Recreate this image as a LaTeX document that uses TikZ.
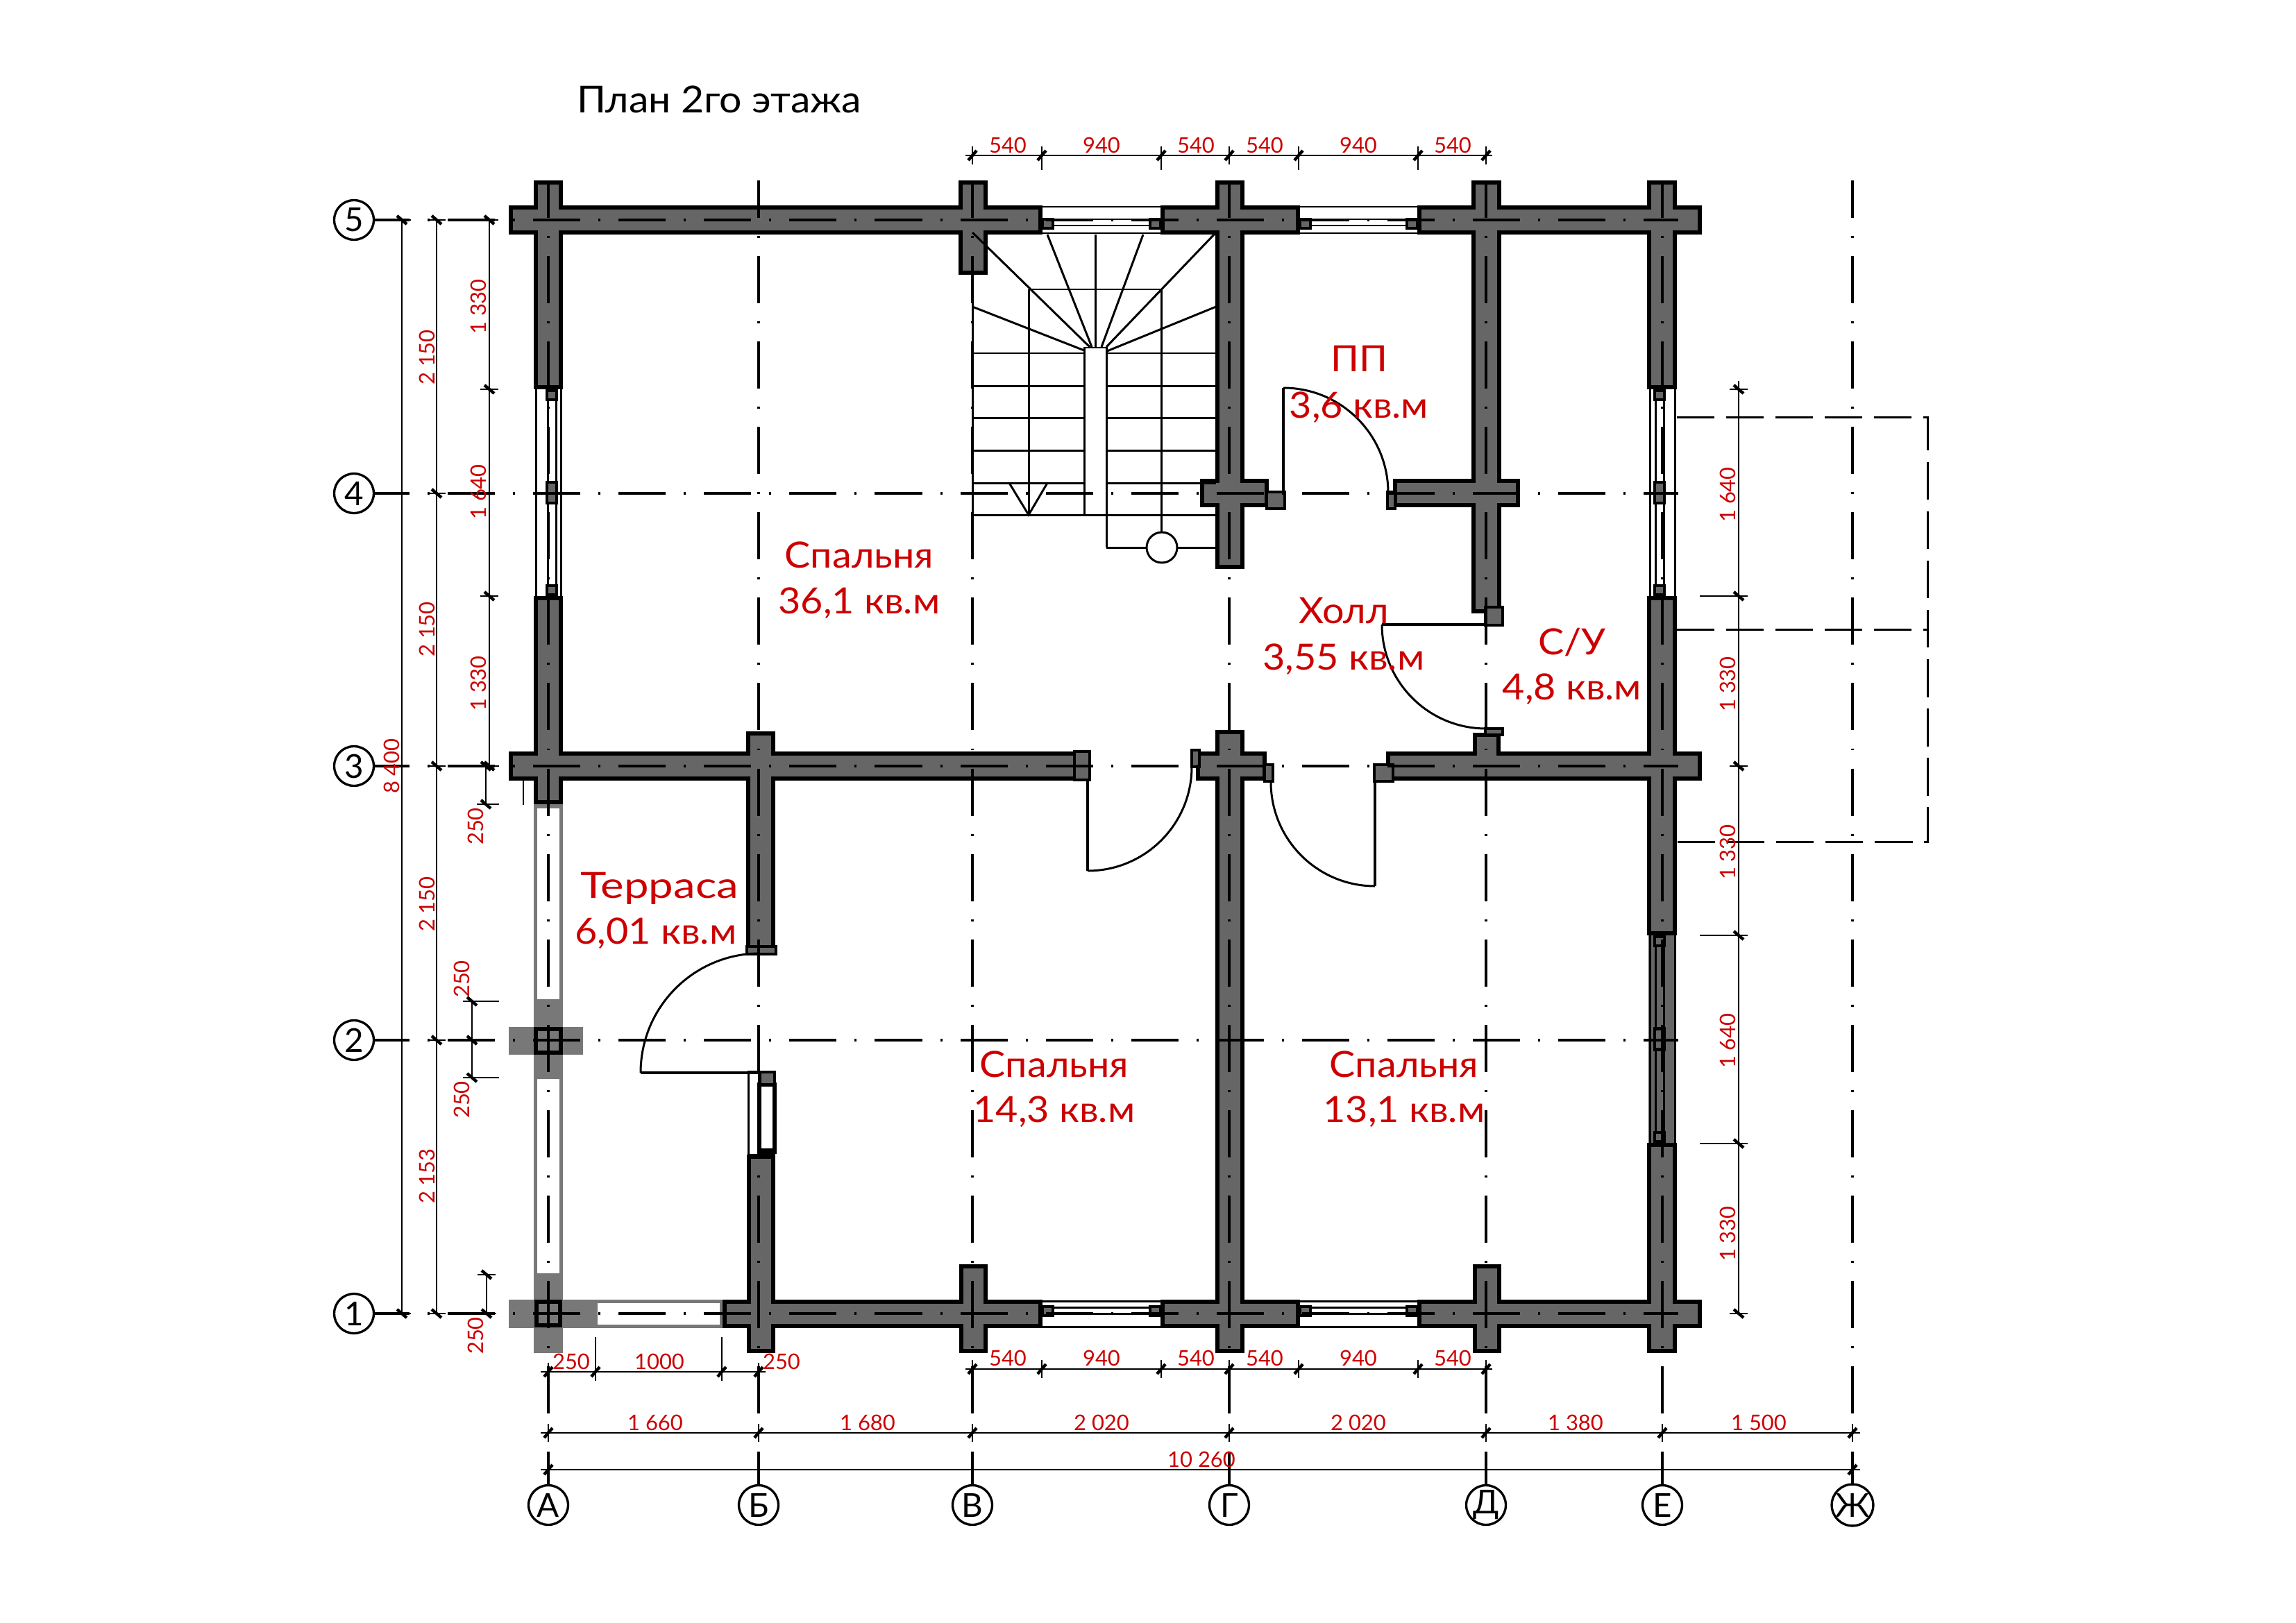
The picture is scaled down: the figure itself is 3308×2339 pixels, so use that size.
\documentclass[tikz,border=0pt]{standalone}
\usepackage{fontspec}
\setmainfont{Lato}
\newfontfamily\planfont[FakeStretch=1.07]{Lato}
\usepackage{xcolor}
\definecolor{wallgray}{RGB}{102,102,102}
\definecolor{postgray}{RGB}{120,120,120}
\definecolor{dimred}{RGB}{204,0,0}
\tikzset{
  axisline/.style={line width=1pt,dash pattern=on 19.35pt off 7.4pt on 0.85pt off 7.4pt},
  axisbubble/.style={circle,draw,line width=0.95pt,fill=white,minimum size=16.2pt,inner sep=0pt,font=\fontsize{13.5}{14}\selectfont},
  dimline/.style={line width=0.8pt},
  dimslash/.style={line width=1.25pt},
  dimlabel/.style={text=dimred,inner sep=0pt,font=\fontsize{8.8}{10}\selectfont},
  roomlabel/.style={text=dimred,inner sep=0pt,font=\planfont\fontsize{14.8}{17}\selectfont},
  winline/.style={line width=0.85pt},
  jamb/.style={draw,line width=1.3pt,fill=wallgray},
  doorleaf/.style={line width=1.2pt},
  doorarc/.style={line width=0.85pt},
  roofline/.style={line width=0.85pt,dash pattern=on 15.4pt off 4.8pt},
}
\newcommand{\hdimtick}[2]{\draw[dimline] (#1,#2-13) -- (#1,#2+13);\draw[dimslash] (#1-6,#2+7) -- (#1+6,#2-7);}
\newcommand{\vdimtick}[2]{\draw[dimline] (#1-13,#2) -- (#1+13,#2);\draw[dimslash] (#1-7,#2-6) -- (#1+7,#2+6);}
\begin{document}
\begin{tikzpicture}[x=0.01cm,y=-0.01cm]
\useasboundingbox (0,0) rectangle (3308,2339);

% terrace posts and open frames
\fill[postgray] (769,1159) rectangle (811,1835);
\fill[white] (774,1165) rectangle (806,1440);
\fill[white] (774,1555) rectangle (806,1835);
\fill[postgray] (769,1440) rectangle (811,1555);
\fill[postgray] (733,1480) rectangle (840,1520);
\fill[postgray] (769,1835) rectangle (811,1950);
\fill[postgray] (733,1873) rectangle (1041,1914);
\fill[white] (861,1878) rectangle (1037,1909);

% walls: black first, then the grey core
\def\wallrects{733/296/1502/338,1672/296/1873/338,2042/296/2452/338,
  769/260/811/561,1381/260/1423/396,1751/260/1793/820,2120/260/2163/884,2373/260/2416/561,
  1729/690/1828/731,2007/690/2190/731,
  733/1083/1570/1125,769/859/811/1159,1075/1054/1117/1369,1723/1083/1825/1125,1751/1052/1793/1950,
  1997/1083/2452/1125,2122/1056/2162/1100,2373/859/2416/1348,
  1041/1873/1502/1914,1672/1873/1873/1914,2042/1873/2452/1914,
  1076/1664/1117/1950,1382/1822/1423/1950,2122/1822/2163/1950,2373/1647/2416/1950}
\foreach \xa/\ya/\xb/\yb in \wallrects
  \fill[black] (\xa,\ya) rectangle (\xb,\yb);
\foreach \xa/\ya/\xb/\yb in \wallrects
  \fill[wallgray] (\xa+6,\ya+6) rectangle (\xb-6,\yb-6);

% windows
\fill[wallgray] (2375,1348) rectangle (2414,1647);
\foreach \xa/\xb in {1502/1672,1873/2042}{
  \foreach \ya in {298,336,316,325,1875,1912,1884,1893}
    \draw[winline] (\xa,\ya) -- (\xb,\ya);
  \draw[jamb] (\xa,316) rectangle (\xa+15,329);
  \draw[jamb] (\xb-15,316) rectangle (\xb,329);
  \draw[jamb] (\xa,1883) rectangle (\xa+15,1896);
  \draw[jamb] (\xb-15,1883) rectangle (\xb,1896);
}
\foreach \wx/\jx/\ya/\yb in {790/788/561/859,2395/2384/561/859,2395/2384/1348/1647}{
  \foreach \ox in {-18,18}
    \draw[winline] (\wx+\ox,\ya) -- (\wx+\ox,\yb);
  \draw[winline] (\jx+1,\ya) -- (\jx+1,\yb);
  \draw[winline] (\jx+13,\ya) -- (\jx+13,\yb);
  \draw[jamb] (\jx,\ya+2) rectangle (\jx+14,\ya+15);
  \draw[jamb] (\jx,\ya/2+\yb/2-15) rectangle (\jx+14,\ya/2+\yb/2+15);
  \draw[jamb] (\jx,\yb-15) rectangle (\jx+14,\yb-2);
}
\draw[winline] (1078,1544) rectangle (1093,1664);
\draw[line width=1.6pt] (1094,1563) rectangle (1116,1660);
\fill[black] (1093,1655) rectangle (1117,1664);
\draw[jamb] (1095,1545) rectangle (1116,1563);
\draw[jamb] (1076,1364) rectangle (1118,1375);

% door jambs
\foreach \xa/\ya/\xb/\yb in {1825/709/1851/733,1999/709/2010/733,2140/875/2165/901,2140/1050/2165/1059,
  1548/1083/1570/1124,1717/1081/1728/1105,1822/1102/1834/1126,1980/1102/2007/1126}
  \draw[jamb] (\xa,\ya) rectangle (\xb,\yb);

% stair
\foreach \ty in {509,556,602,649,696,742}{
  \draw[winline] (1401,\ty) -- (1562,\ty);
  \draw[winline] (1594,\ty) -- (1752,\ty);
}
\draw[winline] (1594,789) -- (1752,789);
\draw[winline] (1401,396) -- (1401,742);
\draw[winline] (1594,742) -- (1562,742) -- (1562,501) -- (1594,501) -- (1594,789);
\draw[winline] (1482,417) -- (1482,742);
\draw[winline] (1482,417) -- (1673,417) -- (1673,789);
\foreach \xa/\ya/\xb/\yb in {1562/505/1401/442,1570/500/1401/335,1573/500/1509/338,1578/501/1578/338,
  1587/500/1647/338,1594/500/1752/335,1595/506/1752/442}
  \draw[winline] (\xa,\ya) -- (\xb,\yb);
\draw[winline] (1454,696) -- (1482,742) -- (1509,696);
\node[circle,draw,line width=0.85pt,fill=white,minimum size=12.5pt,inner sep=0pt] (stairpost) at (1674,789) {};

% grid axes
\foreach \r/\ry in {5/317,4/711,3/1104,2/1499,1/1893}
  \draw[axisline,dash phase=4.84pt] (539,\ry) -- (2418,\ry);
\foreach \cx in {790,1093,1401,1771,2141,2395,2669}
  \draw[axisline,dash phase=4pt] (\cx,260) -- (\cx,2141);

% posts over the axes
\draw[line width=1.6pt] (772,1483) rectangle (808,1517);
\draw[line width=1.6pt] (773,1876) rectangle (807,1910);

% doors
\draw[doorleaf] (1849,709) -- (1849,559);
\draw[doorarc] (1849,559) arc[start angle=-90,end angle=0,radius=151];
\draw[doorleaf] (2141,900) -- (1991,900);
\draw[doorarc] (1991,900) arc[start angle=180,end angle=90,radius=150];
\draw[doorleaf] (1567,1124) -- (1567,1255);
\draw[doorarc] (1567,1255) arc[start angle=90,end angle=0,radius=150];
\draw[doorleaf] (1981,1124) -- (1981,1277);
\draw[doorarc] (1981,1277) arc[start angle=90,end angle=180,radius=150];
\draw[doorleaf] (1093,1546) -- (923,1546);
\draw[doorarc] (923,1546) arc[start angle=180,end angle=270,radius=172];

% bubbles
\foreach \r/\ry in {5/317,4/711,3/1104,2/1499,1/1893}
  \node[axisbubble] (row\r) at (510,\ry) {\r};
\foreach \c/\cx in {A/790,Б/1093,В/1401,Г/1771,Д/2141,Е/2395,Ж/2669}
  \node[axisbubble] (col\c) at (\cx,2169) {\c};

% roof outline
\draw[roofline] (2416,601) -- (2777,601) -- (2777,1213) -- (2416,1213);
\draw[roofline] (2416,907) -- (2777,907);

% dimension lines
\draw[dimline] (1391,224) -- (2150,224);
\foreach \tx in {1401,1501,1673,1771,1871,2043,2141} \hdimtick{\tx}{224}
\foreach \tx in {1501,1673,1871,2043} \draw[dimline] (\tx,224) -- (\tx,245);
\draw[dimline] (779,1977) -- (1103,1977);
\foreach \tx in {790,858,1040,1093} \hdimtick{\tx}{1977}
\foreach \tx in {858,1040} \draw[dimline] (\tx,1927) -- (\tx,1990);
\draw[dimline] (1391,1973) -- (2150,1973);
\foreach \tx in {1401,1501,1673,1771,1871,2043,2141} \hdimtick{\tx}{1973}
\draw[dimline] (779,2065) -- (2680,2065);
\foreach \tx in {790,1093,1401,1771,2141,2395,2669} \hdimtick{\tx}{2065}
\draw[dimline] (779,2118) -- (2680,2118);
\foreach \tx in {790,2669} \hdimtick{\tx}{2118}
\draw[dimline] (579,317) -- (579,1893);
\foreach \ty in {317,1893} \vdimtick{579}{\ty}
\draw[dimline] (629,317) -- (629,1893);
\foreach \ty in {317,711,1104,1499,1893} \vdimtick{629}{\ty}
\draw[dimline] (705,317) -- (705,1104);
\foreach \ty in {317,561,859,1104} \vdimtick{705}{\ty}
\draw[dimline] (700,1104) -- (700,1159);
\foreach \ty in {1104,1159} \vdimtick{700}{\ty}
\draw[dimline] (645,1104) -- (719,1104);
\draw[dimline] (687,1159) -- (719,1159);
\draw[dimline] (754,1125) -- (754,1160);
\draw[dimline] (680,1443) -- (680,1553);
\foreach \ty in {1443,1499,1553} \vdimtick{680}{\ty}
\foreach \ty in {1443,1553} \draw[dimline] (680,\ty) -- (719,\ty);
\draw[dimline] (701,1837) -- (701,1893);
\foreach \ty in {1837,1893} \vdimtick{701}{\ty}
\draw[dimline] (645,1893) -- (715,1893);
\draw[dimline] (2505,549) -- (2505,1893);
\foreach \ty in {561,859,1104,1348,1648,1893} \vdimtick{2505}{\ty}
\foreach \ty in {859,1348,1648} \draw[dimline] (2449,\ty) -- (2518,\ty);

% dimension labels, horizontal
\foreach \tx/\ty/\tl [count=\i] in {1452/209/540,1587/209/940,1723/209/540,1822/209/540,1957/209/940,2093/209/540,
  823/1962/250,950/1962/1000,1126/1962/250,
  1452/1957/540,1587/1957/940,1723/1957/540,1822/1957/540,1957/1957/940,2093/1957/540,
  944/2050/1 660,1250/2050/1 680,1587/2050/2 020,1957/2050/2 020,2270/2050/1 380,2534/2050/1 500,
  1731/2103/10 260}
  \node[dimlabel] (hd\i) at (\tx,\ty) {\tl};
% dimension labels, vertical
\foreach \tx/\ty/\tl [count=\i] in {564/1104/8 400,615/515/2 150,615/907/2 150,615/1303/2 150,615/1695/2 153,
  689/442/1 330,689/709/1 640,689/985/1 330,685/1191/250,665/1411/250,665/1585/250,685/1925/250,
  2489/713/1 640,2489/986/1 330,2489/1228/1 330,2489/1500/1 640,2489/1778/1 330}
  \node[dimlabel,rotate=90] (vd\i) at (\tx,\ty) {\tl};

% rooms
\node[font=\planfont\fontsize{15.2}{17}\selectfont,inner sep=0pt] (title) at (1036,143) {План 2го этажа};
\node[roomlabel] (bedA) at (1238,800) {Спальня};
\node[roomlabel] (bedAarea) at (1238,869) {36,1 кв.м};
\node[roomlabel] (pp) at (1958,517) {ПП};
\node[roomlabel] (pparea) at (1958,587) {3,6 кв.м};
\node[roomlabel] (hall) at (1936,880) {Холл};
\node[roomlabel] (hallarea) at (1936,950) {3,55 кв.м};
\node[roomlabel] (wc) at (2265,925) {С/У};
\node[roomlabel] (wcarea) at (2265,993) {4,8 кв.м};
\node[roomlabel] (terrace) at (950,1280) {\scalebox{1.14}[1]{Терраса}};
\node[roomlabel] (terracearea) at (945,1345) {6,01 кв.м};
\node[roomlabel] (bedB) at (1519,1534) {Спальня};
\node[roomlabel] (bedBarea) at (1519,1602) {14,3 кв.м};
\node[roomlabel] (bedC) at (2023,1534) {Спальня};
\node[roomlabel] (bedCarea) at (2023,1602) {13,1 кв.м};
\end{tikzpicture}
\end{document}
